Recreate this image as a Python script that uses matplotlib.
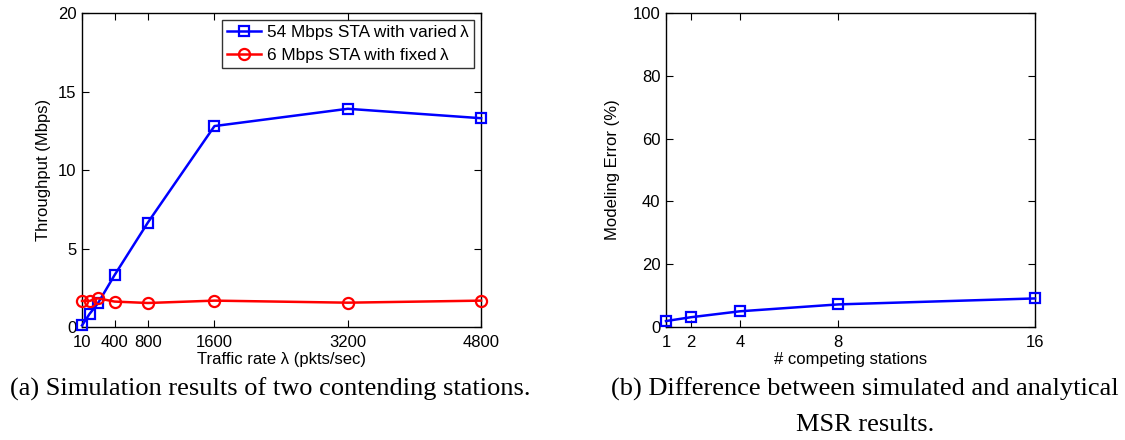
import numpy as np
import matplotlib.pyplot as plt

plt.rcParams['font.family'] = ['Liberation Sans', 'DejaVu Sans']

# (a) throughput vs traffic rate
rate = [10, 100, 200, 400, 800, 1600, 3200, 4800]
tput_54 = [0.1, 0.83, 1.5, 3.3, 6.65, 12.8, 13.9, 13.3]
tput_6 = [1.66, 1.66, 1.83, 1.62, 1.53, 1.68, 1.55, 1.68]
rate_ticks = [10, 400, 800, 1600, 3200, 4800]

# (b) modeling error vs stations
stations = [1, 2, 4, 8, 16]
model_err = [1.9, 3.1, 5.0, 7.2, 9.1]

fig = plt.figure(figsize=(11.25, 4.4), dpi=100)
ax1 = fig.add_axes([0.0729, 0.2568, 0.3547, 0.7136])
ax2 = fig.add_axes([0.592, 0.2568, 0.328, 0.7136])

ax1.plot(rate, tput_54, color='b', lw=1.8, marker='s', ms=7.5, mfc='none', mew=1.6,
         clip_on=False, zorder=3, label='54 Mbps STA with varied\u2009λ')
ax1.plot(rate, tput_6, color='r', lw=1.8, marker='o', ms=8, mfc='none', mew=1.6,
         clip_on=False, zorder=3, label='6 Mbps STA with fixed\u2009λ')
ax1.set_xlim(10, 4800)
ax1.set_ylim(0, 20)
ax1.set_xticks(rate_ticks)
ax1.set_yticks([0, 5, 10, 15, 20])
ax1.set_xlabel('Traffic rate λ (pkts/sec)', fontsize=12, labelpad=1)
ax1.set_ylabel('Throughput (Mbps)', fontsize=12, labelpad=5)
leg = ax1.legend(loc='upper right', fontsize=12.4, fancybox=False, edgecolor='k',
                 borderaxespad=0.4, handlelength=2.0, handletextpad=0.35,
                 borderpad=0.3, labelspacing=0.45)
leg.get_frame().set_linewidth(1.0)

ax2.plot(stations, model_err, color='b', lw=1.8, marker='s', ms=7.5, mfc='none', mew=1.6,
         clip_on=False, zorder=3)
ax2.set_xlim(1, 16)
ax2.set_ylim(0, 100)
ax2.set_xticks(stations)
ax2.set_yticks([0, 20, 40, 60, 80, 100])
ax2.set_xlabel('# competing stations', fontsize=12, labelpad=1)
ax2.set_ylabel('Modeling Error (%)', fontsize=12, labelpad=9)

for ax in (ax1, ax2):
    ax.tick_params(direction='in', top=True, right=True, labelsize=12, length=5)
    ax.tick_params(axis='x', pad=6)
    ax.tick_params(axis='y', pad=4)
    for s in ax.spines.values():
        s.set_linewidth(1.0)

fig.text(0.24, 0.116, '(a) Simulation results of two contending stations.',
         ha='center', va='center', fontsize=19, family='Liberation Serif')
fig.text(0.769, 0.116, '(b) Difference between simulated and analytical',
         ha='center', va='center', fontsize=19, family='Liberation Serif')
fig.text(0.769, 0.034, 'MSR results.',
         ha='center', va='center', fontsize=19, family='Liberation Serif')

fig.savefig('out.png', dpi=100)
